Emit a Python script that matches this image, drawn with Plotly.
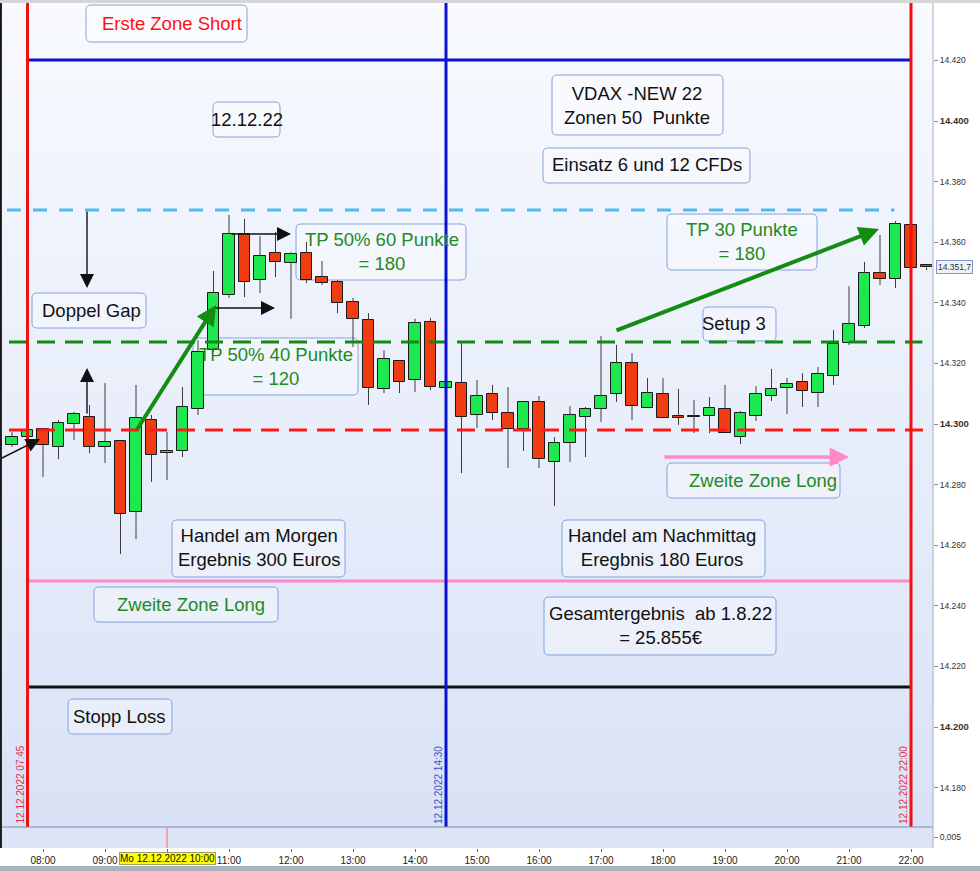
import plotly.graph_objects as go

DAY = "2022-12-12 "

# ---------------- data ----------------
times = ["07:15", "07:30", "07:45", "08:00", "08:15", "08:30", "08:45", "09:00", "09:15", "09:30",
         "09:45", "10:00", "10:15", "10:30", "10:45", "11:00", "11:15", "11:30", "11:45", "12:00",
         "12:15", "12:30", "12:45", "13:00", "13:15", "13:30", "13:45", "14:00", "14:15", "14:30",
         "14:45", "15:00", "15:15", "15:30", "15:45", "16:00", "16:15", "16:30", "16:45", "17:00",
         "17:15", "17:30", "17:45", "18:00", "18:15", "18:30", "18:45", "19:00", "19:15", "19:30",
         "19:45", "20:00", "20:15", "20:30", "20:45", "21:00", "21:15", "21:30", "21:45", "22:00",
         "22:15"]
opens = [14294.7, 14293.1, 14295.7, 14298.3, 14292.4, 14300.0, 14302.3, 14292.4, 14294.4, 14271.0,
         14301.3, 14290.4, 14291.1, 14305.0, 14324.4, 14342.6, 14362.7, 14347.5, 14356.4, 14353.1,
         14356.4, 14348.5, 14346.9, 14340.3, 14334.3, 14311.6, 14320.8, 14314.5, 14333.7, 14311.9,
         14313.5, 14303.0, 14309.9, 14303.6, 14298.3, 14307.3, 14287.5, 14293.7, 14302.3, 14305.0,
         14309.9, 14320.1, 14305.3, 14309.9, 14302.6, 14302.3, 14302.6, 14305.0, 14295.7, 14302.6,
         14309.2, 14311.9, 14313.9, 14310.2, 14315.8, 14326.7, 14332.3, 14349.8, 14347.9, 14365.7,
         14352.5]
highs = [14295.4, 14297.4, 14298.7, 14298.7, 14301.3, 14304.0, 14306.3, 14313.5, 14294.4, 14312.9,
         14303.0, 14297.4, 14312.2, 14327.7, 14350.5, 14369.0, 14367.7, 14362.0, 14363.4, 14356.8,
         14360.1, 14353.8, 14347.5, 14341.6, 14336.6, 14324.4, 14320.8, 14334.7, 14335.0, 14314.2,
         14326.7, 14314.5, 14312.9, 14312.2, 14307.3, 14309.2, 14295.7, 14305.9, 14305.6, 14329.0,
         14326.1, 14323.4, 14315.2, 14315.2, 14311.6, 14307.9, 14308.9, 14312.9, 14304.3, 14312.5,
         14318.2, 14315.2, 14316.8, 14318.8, 14331.0, 14345.5, 14353.5, 14362.4, 14367.0, 14365.7,
         14352.5]
lows = [14292.4, 14292.4, 14295.4, 14282.5, 14288.4, 14294.7, 14290.4, 14287.1, 14257.1, 14262.0,
        14280.9, 14281.5, 14289.1, 14303.0, 14323.8, 14341.6, 14341.9, 14343.2, 14348.5, 14334.7,
        14346.5, 14345.9, 14336.6, 14325.4, 14306.3, 14310.2, 14310.2, 14310.6, 14311.2, 14311.6,
        14283.8, 14298.7, 14301.3, 14285.5, 14291.1, 14285.5, 14272.9, 14287.5, 14289.1, 14300.7,
        14307.3, 14301.3, 14305.3, 14302.0, 14299.7, 14297.0, 14297.0, 14297.0, 14293.4, 14301.0,
        14307.6, 14303.3, 14305.6, 14305.6, 14312.9, 14326.1, 14331.7, 14345.9, 14344.9, 14351.5,
        14350.8]
closes = [14293.1, 14295.7, 14298.0, 14293.1, 14300.3, 14303.3, 14292.4, 14294.1, 14270.3, 14302.0,
          14289.8, 14291.1, 14305.6, 14323.8, 14343.2, 14362.7, 14346.9, 14355.4, 14353.5, 14356.1,
          14347.5, 14346.5, 14339.9, 14334.7, 14311.9, 14321.5, 14313.9, 14333.3, 14312.2, 14313.9,
          14302.3, 14309.2, 14303.6, 14298.3, 14307.3, 14288.4, 14293.7, 14303.0, 14305.0, 14309.2,
          14320.1, 14305.9, 14310.2, 14302.0, 14302.0, 14302.3, 14305.3, 14297.0, 14303.6, 14309.9,
          14311.6, 14313.2, 14310.9, 14316.5, 14326.4, 14333.0, 14349.8, 14347.9, 14366.0, 14351.5,
          14351.7]
last_price = 14351.7
last_price_label = "14.351,7"

hour_ticks = ["08:00", "09:00", "10:00", "11:00", "12:00", "13:00", "14:00", "15:00",
              "16:00", "17:00", "18:00", "19:00", "20:00", "21:00", "22:00"]
y_ticks = [14180, 14200, 14220, 14240, 14260, 14280, 14300, 14320, 14340, 14360, 14380, 14400, 14420]
y_tick_labels = ["14.180", "14.200", "14.220", "14.240", "14.260", "14.280", "14.300",
                 "14.320", "14.340", "14.360", "14.380", "14.400", "14.420"]
bold_ticks = [14200, 14300, 14400]

# zone levels
level_short = 14420.1
level_tp = 14370.6
level_setup = 14327.1
level_long1 = 14298.0
level_long2 = 14248.2
level_stop = 14213.2

event_times = ["07:45", "14:30", "22:00"]
event_colors = ["#ee1111", "#0a14d0", "#ee1111"]
event_label_colors = ["#e8304a", "#4050c8", "#e8304a"]
cursor_time = "10:00"

# ---------------- helpers ----------------
W_PLOT = 933.0
H_PLOT = 848.0
MAIN_BOTTOM = 827.0


def X(x):
    return x / W_PLOT


def Y(y):
    return (H_PLOT - y) / H_PLOT


def T(hm):
    return DAY + hm + ":00"


x_start = "2022-12-12 07:18:23"
x_end = "2022-12-12 22:21:17"

# ---------------- traces ----------------
xs = [T(t) for t in times]
bottoms = [min(o, c) for o, c in zip(opens, closes)]
heights = [max(abs(c - o), 0.35) for o, c in zip(opens, closes)]
colors = ["#1ee84f" if c >= o else "#f03c10" for o, c in zip(opens, closes)]

wx, wy = [], []
for x, o, h, l, c in zip(xs, opens, highs, lows, closes):
    top, bot = max(o, c), min(o, c)
    if h > top:
        wx += [x, x, None]
        wy += [h, top, None]
    if l < bot:
        wx += [x, x, None]
        wy += [bot, l, None]

fig = go.Figure()
fig.add_trace(go.Scatter(x=wx, y=wy, mode="lines", line=dict(color="#3c3c3c", width=1),
                         hoverinfo="skip", xaxis="x", yaxis="y"))
fig.add_trace(go.Bar(x=xs, y=heights, base=bottoms, width=11.5 * 60 * 1000,
                     marker=dict(color=colors, line=dict(color="#1a1a1a", width=1)),
                     hoverinfo="skip", xaxis="x", yaxis="y"))
fig.add_trace(go.Scatter(x=[T("10:00")], y=[0.005], mode="markers", marker=dict(opacity=0),
                         hoverinfo="skip", xaxis="x", yaxis="y2"))

shapes = []

# gradient background of main panel
N = 70
c_top = (248, 250, 254)
c_bot = (217, 226, 246)
for i in range(N):
    f = (i + 0.5) / N
    col = tuple(round(a + (b - a) * f) for a, b in zip(c_top, c_bot))
    y0 = MAIN_BOTTOM * i / N
    y1 = MAIN_BOTTOM * (i + 1) / N
    shapes.append(dict(type="rect", xref="paper", yref="paper", x0=0, x1=1,
                       y0=Y(y1), y1=Y(y0) + 0.0005, line=dict(width=0),
                       fillcolor="rgb(%d,%d,%d)" % col, layer="below"))


def rrect(x0, y0, x1, y1, r=5):
    p = (f"M{X(x0 + r)},{Y(y0)} L{X(x1 - r)},{Y(y0)} Q{X(x1)},{Y(y0)} {X(x1)},{Y(y0 + r)} "
         f"L{X(x1)},{Y(y1 - r)} Q{X(x1)},{Y(y1)} {X(x1 - r)},{Y(y1)} "
         f"L{X(x0 + r)},{Y(y1)} Q{X(x0)},{Y(y1)} {X(x0)},{Y(y1 - r)} "
         f"L{X(x0)},{Y(y0 + r)} Q{X(x0)},{Y(y0)} {X(x0 + r)},{Y(y0)} Z")
    return dict(type="path", xref="paper", yref="paper", path=p,
                line=dict(color="#86a2e0", width=1), fillcolor="rgba(255,255,255,0.35)",
                layer="below")


boxes = [(86, 5, 247, 42), (213, 102, 280, 137), (552, 75, 723, 135), (543, 148, 750, 183),
         (296, 224, 466, 280), (667, 214, 817, 270), (32, 293, 146, 328), (703, 307, 776, 341),
         (193, 338, 358, 395), (667, 463, 840, 498), (172, 520, 345, 577), (562, 520, 765, 577),
         (94, 587, 278, 622), (544, 597, 776, 655), (68, 699, 172, 734)]
for b in boxes:
    shapes.append(rrect(*b))

# horizontal zone lines
x_left = "2022-12-12 07:00:00"
x_right = "2022-12-12 22:40:00"
hlines = [
    (level_short, T("07:45"), T("22:00"), "#0a14d0", 3, "solid"),
    (level_tp, x_left, "2022-12-12 21:44:00", "#52b8f0", 3, "14px,12px"),
    (level_setup, x_left, "2022-12-12 22:11:00", "#138a13", 3, "18px,10px"),
    (level_long1, x_left, x_right, "#ff1a1a", 3, "18px,10px"),
    (level_long2, T("07:45"), T("22:00"), "#ff88c8", 3, "solid"),
    (level_stop, T("07:45"), T("22:00"), "#111111", 3, "solid"),
]
for lv, a, b, col, w, dash in hlines:
    shapes.append(dict(type="line", xref="x", yref="y", x0=a, x1=b, y0=lv, y1=lv,
                       line=dict(color=col, width=w, dash=dash)))

# vertical event lines
for t, col in zip(event_times, event_colors):
    shapes.append(dict(type="line", xref="x", yref="paper", x0=T(t), x1=T(t),
                       y0=Y(MAIN_BOTTOM), y1=1, line=dict(color=col, width=3)))

# panel divider, cursor, borders
shapes.append(dict(type="line", xref="paper", yref="paper", x0=0, x1=1, y0=Y(MAIN_BOTTOM),
                   y1=Y(MAIN_BOTTOM), line=dict(color="#7f8cab", width=1)))
shapes.append(dict(type="line", xref="x", yref="paper", x0=T(cursor_time), x1=T(cursor_time),
                   y0=0, y1=Y(MAIN_BOTTOM), line=dict(color="#ff6a7a", width=1)))
shapes.append(dict(type="line", xref="paper", yref="paper", x0=0.001, x1=0.001, y0=0, y1=1,
                   line=dict(color="#1a1a1a", width=2)))
shapes.append(dict(type="line", xref="paper", yref="paper", x0=1, x1=1, y0=0, y1=1,
                   line=dict(color="#a6aec0", width=1)))
shapes.append(dict(type="rect", xref="paper", yref="paper", x0=0, x1=980 / W_PLOT,
                   y0=Y(3), y1=1.0, line=dict(width=0), fillcolor="#d6d6d6"))
shapes.append(dict(type="rect", xref="paper", yref="paper", x0=0, x1=980 / W_PLOT,
                   y0=Y(871), y1=Y(866), line=dict(width=0), fillcolor="#a8b3bd"))

# ---------------- annotations ----------------
ann = []
FONT = "Arial, Liberation Sans, sans-serif"
texts = [
    ("Erste Zone Short", 172, 24, "#ff1010"),
    ("12.12.22", 247, 120, "#111111"),
    ("VDAX -NEW 22<br>Zonen 50  Punkte", 637, 105, "#111111"),
    ("Einsatz 6 und 12 CFDs", 647, 165, "#111111"),
    ("TP 50% 60 Punkte<br>= 180", 382, 251, "#1f8a1f"),
    ("TP 30 Punkte<br>= 180", 742, 242, "#1f8a1f"),
    ("Doppel Gap", 91, 311, "#111111"),
    ("Setup 3", 734, 323, "#111111"),
    ("TP 50% 40 Punkte<br>= 120", 276, 366, "#1f8a1f"),
    ("Zweite Zone Long", 763, 480, "#1f8a1f"),
    ("Handel am Morgen<br>Ergebnis 300 Euros", 259, 547, "#111111"),
    ("Handel am Nachmittag<br>Eregbnis 180 Euros", 662, 547, "#111111"),
    ("Zweite Zone Long", 191, 604, "#1f8a1f"),
    ("Gesamtergebnis  ab 1.8.22<br>= 25.855€", 660, 625, "#111111"),
    ("Stopp Loss", 120, 716, "#111111"),
]
for txt, cx, cy, col in texts:
    ann.append(dict(text=txt, xref="paper", yref="paper", x=X(cx), y=Y(cy),
                    xanchor="center", yanchor="middle", showarrow=False,
                    font=dict(family=FONT, size=18.5, color=col)))

# arrows: (head_x, head_y, tail_x, tail_y, color, width, size)
arrows = [
    (40, 439, -2, 459, "#111111", 1.4, 2.0),
    (87, 368, 87, 415, "#111111", 1.4, 2.0),
    (87, 288, 87, 210, "#111111", 1.4, 2.0),
    (291, 234, 230, 234, "#111111", 1.4, 2.0),
    (275, 308, 211, 308, "#111111", 1.4, 2.0),
    (216, 305, 136, 431, "#148c14", 4, 1.0),
    (879, 229, 615, 331, "#148c14", 4, 1.0),
    (849, 457, 663, 457, "#ff88c8", 3.5, 1.1),
]
for hx, hy, tx, ty, col, w, s in arrows:
    ann.append(dict(text="", xref="paper", yref="paper", x=X(hx), y=Y(hy),
                    ax=tx - hx, ay=ty - hy, showarrow=True, arrowhead=2,
                    arrowwidth=w, arrowsize=s, arrowcolor=col, standoff=0))

# rotated labels of event lines
for t, col in zip(event_times, event_label_colors):
    ann.append(dict(text="12.12.2022 " + t, xref="x", yref="paper", x=T(t), y=Y(826),
                    xanchor="center", yanchor="bottom", xshift=-8, textangle=-90,
                    showarrow=False, font=dict(family=FONT, size=10, color=col)))

# last price tag
ann.append(dict(text=last_price_label, xref="paper", yref="y", x=X(936), y=last_price,
                xanchor="left", yanchor="middle", showarrow=False,
                font=dict(family=FONT, size=8.5, color="#333333"),
                bordercolor="#8199c9", borderwidth=1, borderpad=1, bgcolor="#eef2fa"))

# highlighted cursor date on time axis
ann.append(dict(text="Mo 12.12.2022 10:00", xref="x", yref="paper", x=T(cursor_time),
                y=Y(858), xanchor="center", yanchor="middle", showarrow=False,
                font=dict(family="Liberation Sans Narrow, Arial Narrow, Arial", size=10,
                          color="#111111"),
                bgcolor="#ffff00", bordercolor="#a0a060", borderwidth=1, borderpad=0))

y_text = []
for v, lab in zip(y_ticks, y_tick_labels):
    if v in bold_ticks:
        y_text.append('<b><span style="font-size:9.5px">' + lab + '</span></b>')
    else:
        y_text.append(lab)

x_text = ["" if h == cursor_time else h for h in hour_ticks]

fig.update_layout(
    width=980, height=871,
    margin=dict(l=0, r=980 - W_PLOT, t=0, b=871 - H_PLOT),
    paper_bgcolor="white", plot_bgcolor="#dce4f6",
    showlegend=False, bargap=0,
    shapes=shapes, annotations=ann,
    xaxis=dict(type="date", range=[x_start, x_end], anchor="y2",
               tickvals=[T(h) for h in hour_ticks], ticktext=x_text,
               ticks="outside", ticklen=3, tickcolor="#666666",
               tickfont=dict(family="Liberation Sans Narrow, Arial Narrow, Arial", size=10,
                             color="#222222"),
               showgrid=False, zeroline=False, showline=False),
    yaxis=dict(domain=[Y(MAIN_BOTTOM), 1], anchor="x", side="right",
               range=[14300 - (MAIN_BOTTOM - 424) / 3.03, 14300 + 424 / 3.03],
               tickvals=y_ticks, ticktext=y_text, ticks="outside", ticklen=4,
               tickcolor="#888888", tickfont=dict(family=FONT, size=8.5, color="#333333"),
               showgrid=False, zeroline=False, showline=False),
    yaxis2=dict(domain=[0, Y(MAIN_BOTTOM)], anchor="x", side="right", range=[0, 0.01],
                tickvals=[0.005], ticktext=["0,005"], ticks="outside", ticklen=4,
                tickcolor="#888888", tickfont=dict(family=FONT, size=8.5, color="#333333"),
                showgrid=False, zeroline=False, showline=False),
)

fig.write_html("out.html", config={"displayModeBar": False},
               post_script="document.body.style.margin='0px';document.body.style.padding='0px';")
